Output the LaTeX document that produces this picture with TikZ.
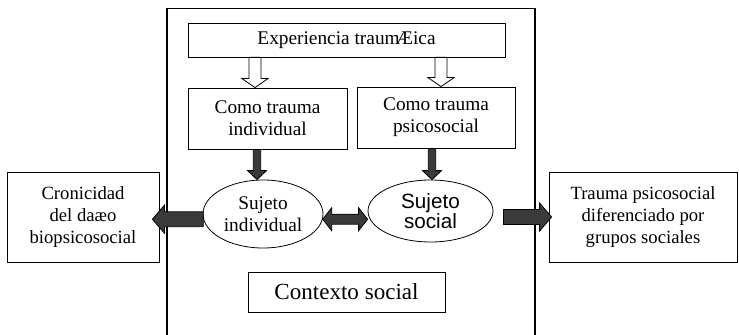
\documentclass[tikz,border=0pt]{standalone}
\usepackage{fontspec}
\setmainfont{Liberation Serif}
\setsansfont{Liberation Sans}
\usetikzlibrary{shapes,calc,positioning}
\definecolor{darkfill}{RGB}{58,58,58}
\tikzset{
    semithick,
    box/.style ={rectangle, draw, line width=0.6pt, align=center, inner sep=0pt,
                 font=\fontsize{14.5}{16.5}\selectfont},
    side/.style ={box, font=\fontsize{14}{16.5}\selectfont},
    state/.style ={ellipse, draw, line width=0.6pt, align=center, inner sep=0pt,
                 font=\fontsize{14.5}{16.5}\selectfont},
    frame/.style={line width=1.1pt},
    sw/.store in=\shaftw, hw/.store in=\headw, hl/.store in=\headl,
    sw=3pt, hw=8pt, hl=7pt,
    fat/.style={to path={
        ($(\tikztostart)!\shaftw!90:(\tikztotarget)$)
        -- ($($(\tikztotarget)!\headl!(\tikztostart)$)!\shaftw!-90:(\tikztostart)$)
        -- ($($(\tikztotarget)!\headl!(\tikztostart)$)!\headw!-90:(\tikztostart)$)
        -- (\tikztotarget)
        -- ($($(\tikztotarget)!\headl!(\tikztostart)$)!\headw!90:(\tikztostart)$)
        -- ($($(\tikztotarget)!\headl!(\tikztostart)$)!\shaftw!90:(\tikztostart)$)
        -- ($(\tikztostart)!\shaftw!-90:(\tikztotarget)$) -- cycle}},
    fatboth/.style={to path={
        (\tikztostart)
        -- ($($(\tikztostart)!\headl!(\tikztotarget)$)!\headw!90:(\tikztotarget)$)
        -- ($($(\tikztostart)!\headl!(\tikztotarget)$)!\shaftw!90:(\tikztotarget)$)
        -- ($($(\tikztotarget)!\headl!(\tikztostart)$)!\shaftw!-90:(\tikztostart)$)
        -- ($($(\tikztotarget)!\headl!(\tikztostart)$)!\headw!-90:(\tikztostart)$)
        -- (\tikztotarget)
        -- ($($(\tikztotarget)!\headl!(\tikztostart)$)!\headw!90:(\tikztostart)$)
        -- ($($(\tikztotarget)!\headl!(\tikztostart)$)!\shaftw!90:(\tikztostart)$)
        -- ($($(\tikztostart)!\headl!(\tikztotarget)$)!\shaftw!-90:(\tikztotarget)$)
        -- ($($(\tikztostart)!\headl!(\tikztotarget)$)!\headw!-90:(\tikztotarget)$)
        -- cycle}},
    hollow/.style={draw, fill=white, line width=0.6pt, sw=4.5pt, hw=9.75pt, hl=6.75pt},
    darrow/.style={draw, fill=darkfill, line width=0.6pt, sw=2.8pt, hw=7.1pt, hl=6.75pt},
    twoway/.style={darrow, sw=3.75pt, hw=8.6pt, hl=6.75pt},
    bigarrow/.style={darrow, sw=5.6pt, hw=10.5pt, hl=9pt}
}

\begin{document}
\begin{tikzpicture}[x=0.75pt, y=-0.75pt]
    \useasboundingbox (0,0) rectangle (739,335);
    \draw[frame] (167,340) |- (535,8.5) -- (535,340);

    \node[box, minimum width=237.75pt, minimum height=25.5pt] (1) at (346.5,40) {Experiencia traum\kern-.2emÆica};
    \node[box, minimum width=119.25pt, minimum height=45.75pt] (2) at (267.5,118.5) {Como trauma\\individual};
    \node[box, minimum width=118.5pt, minimum height=45.75pt] (3) at (436,117.5) {Como trauma\\psicosocial};
    \node[state, minimum width=90pt, minimum height=51pt] (4) at (263,214) {Sujeto\\individual};
    \node[state, font=\sffamily\fontsize{15.5}{15.5}\selectfont, minimum width=93.75pt, minimum height=46.5pt] (5) at (430.5,211) {Sujeto\\social};
    \node[side, minimum width=114pt, minimum height=67.5pt] (6) at (83,217) {Cronicidad\\del daæo\\biopsicosocial};
    \node[side, minimum width=141pt, minimum height=67.5pt] (7) at (643,217) {Trauma psicosocial\\diferenciado por\\grupos sociales};
    \node[box, font=\fontsize{17.3}{20}\selectfont, minimum width=147.75pt, minimum height=30pt] (8) at (346.5,292) {Contexto social};

    \path[hollow] ($(1.south -| 2.north)+(-12.5,0)$) to[fat] ($(2.north)+(-12.5,0)$);
    \path[hollow] ($(1.south -| 3.north)+(5,0)$) to[fat] ($(3.north)+(5,0)$);
    \path[darrow] ($(2.south)+(-10.5,0)$) to[fat] ($(4.north -| 2.south)+(-10.5,0)$);
    \path[darrow] ($(3.south)+(-4,0)$) to[fat] ($(5.north -| 3.south)+(-4,0)$);
    \path[twoway] (4.-5) to[fatboth] (4.-5 -| 5.west);
    \path[bigarrow] (4.185) to[fat] ($(4.185 -| 6.east)+(-7,0)$);
    \path[bigarrow] ($(5.east)+(10,6)$) to[fat] ($(5.east -| 7.west)+(3,6)$);
\end{tikzpicture}
\end{document}
